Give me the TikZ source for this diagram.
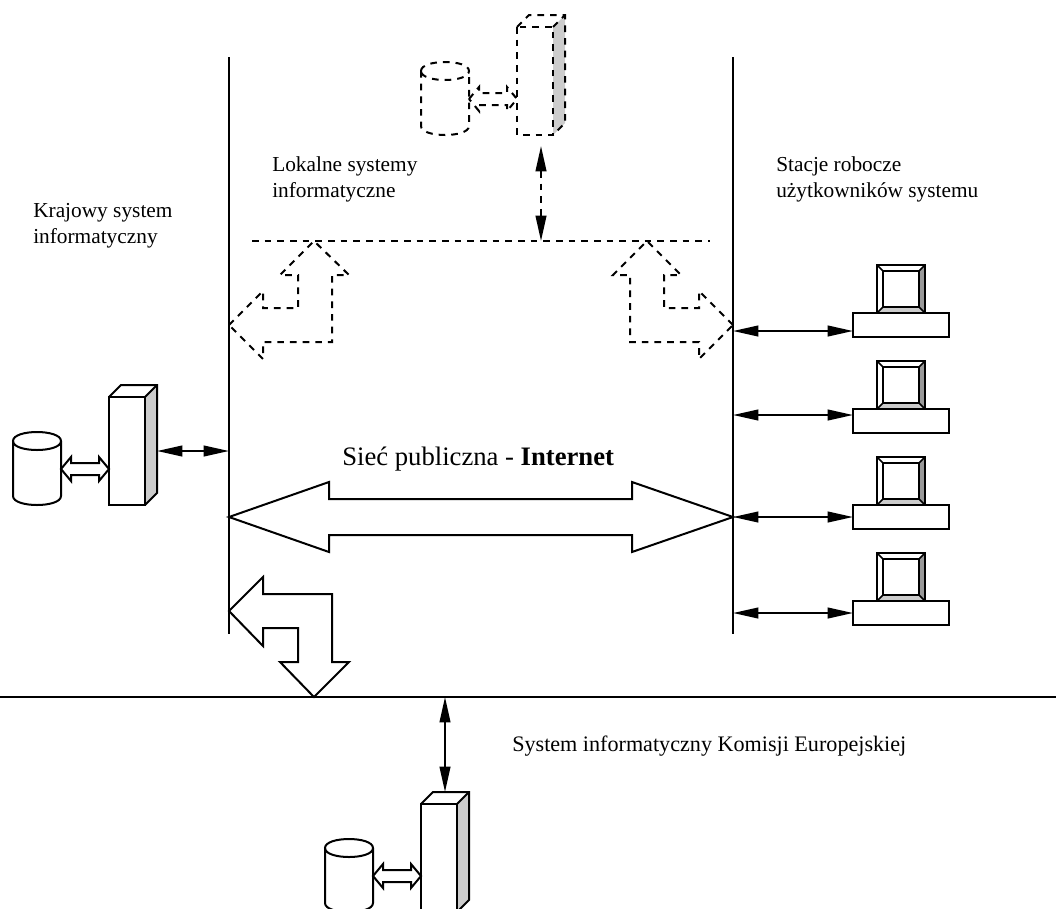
\documentclass[tikz,border=0pt]{standalone}
\usepackage{fontspec}
\setmainfont{Liberation Serif}
\usetikzlibrary{arrows.meta}

\tikzset{
  base line/.style={line width=1.5pt,line join=miter},
  bus/.style={base line},
  dash line/.style={base line,dash pattern=on 5pt off 4.5pt},
  link/.style={line width=1.5pt,{Triangle[length=19pt,width=8pt]}-{Triangle[length=19pt,width=8pt]}},
  label/.style={align=left,anchor=west,inner sep=0pt,font=\fontsize{16}{19.5}\selectfont},
  server/.pic={
    % cylinder
    \draw[base line] (-96,44) .. controls (-96,32) and (-48,32) .. (-48,44) .. controls (-48,56) and (-96,56) .. cycle;
    \draw[base line] (-96,44) -- (-96,99) .. controls (-96,111) and (-48,111) .. (-48,99) -- (-48,44);
    % link to the cylinder
    \draw[base line] (-48,72) -- (-38,60) -- (-38,66) -- (-10,66) -- (-10,60) -- (0,72) -- (-10,84) -- (-10,78) -- (-38,78) -- (-38,84) -- cycle;
    % box
    \fill[black!20] (36,0) -- (48,-12) -- (48,96) -- (36,108) -- cycle;
    \draw[base line] (0,0) rectangle (36,108);
    \draw[base line] (0,0) -- (12,-12) -- (48,-12) -- (48,96) -- (36,108);
    \draw[base line] (36,0) -- (48,-12);
    \coordinate (-north) at (24,-12);
    \coordinate (-south) at (24,119);
    \coordinate (-east) at (48,54);
  },
  computer/.pic={
    \fill[black!40] (42,6) -- (48,0) -- (48,48) -- (42,42) -- cycle;
    \fill[black!20] (6,42) -- (42,42) -- (48,48) -- (0,48) -- cycle;
    \draw[base line] (0,0) rectangle (48,48);
    \draw[line width=1.1pt] (6,6) rectangle (42,42);
    \draw[line width=1.1pt] (0,0) -- (6,6) (48,0) -- (42,6) (48,48) -- (42,42) (0,48) -- (6,42);
    \draw[base line] (-24,48) rectangle (72,72);
    \coordinate (-west) at (-24,60);
  }
}

\begin{document}
\begin{tikzpicture}[x=0.75pt,y=-0.75pt]
  \clip (0,0) rectangle (1056,908);

  \coordinate (leftbus) at (229,57);
  \coordinate (leftbusend) at (229,634);
  \coordinate (rightbus) at (733,57);
  \coordinate (rightbusend) at (733,634);
  \coordinate (eubus) at (0,697);
  \coordinate (eubusend) at (1056,697);
  \coordinate (localbus) at (252,241);
  \coordinate (localbusend) at (710,241);

  \draw[bus] (leftbus) -- (leftbusend);
  \draw[bus] (rightbus) -- (rightbusend);
  \draw[bus] (eubus) -- (eubusend);
  \draw[dash line] (localbus) -- (localbusend);

  \pic (srvlocal) [dash line] at (517,27) {server};
  \pic (srvpl) at (109,397) {server};
  \pic (srveu) at (421,804) {server};

  \draw[link,dash pattern=on 5pt off 4.5pt] (srvlocal-south) -- (srvlocal-south |- localbus);
  \draw[link] (srvpl-east) -- (srvpl-east -| leftbus);
  \draw[link] (srveu-north) -- (srveu-north |- eubus);

  % computers
  \foreach \i/\ytop/\ylink in {1/265/331,2/361/415,3/457/517,4/553/613} {
    \pic (pc\i) at (877,\ytop) {computer};
    \draw[link] (rightbus |- 0,\ylink) -- (pc\i-west |- 0,\ylink);
  }

  % block arrows
  \draw[dash line] (229,325) -- (263,291) -- (263,308) -- (298,308) -- (298,275) -- (280,275) -- (314,241) -- (349,275) -- (332,275) -- (332,342) -- (263,342) -- (263,359) -- cycle;
  \draw[dash line] (733,325) -- (699,291) -- (699,308) -- (664,308) -- (664,275) -- (681,275) -- (647,241) -- (613,275) -- (630,275) -- (630,342) -- (699,342) -- (699,359) -- cycle;
  \draw[base line] (229,517) -- (329,482) -- (329,499) -- (632,499) -- (632,482) -- (733,517) -- (632,552) -- (632,535) -- (329,535) -- (329,552) -- cycle;
  \draw[base line] (229,611) -- (263,577) -- (263,594) -- (332,594) -- (332,662) -- (349,662) -- (314,697) -- (280,662) -- (298,662) -- (298,628) -- (263,628) -- (263,646) -- cycle;

  % texts
  \node[label] (lbllocal) at (272,179) {Lokalne systemy\\informatyczne};
  \node[label] (lblstations) at (776,179) {Stacje robocze\\użytkowników systemu};
  \node[label] (lblnational) at (33,226) {Krajowy system\\informatyczny};
  \node[label,font=\fontsize{20}{24}\selectfont] (lblpublic) at (342,459) {Sieć publiczna - \textbf{Internet}};
  \node[label,font=\fontsize{16.6}{19.5}\selectfont] (lbleu) at (512,746) {System informatyczny Komisji Europejskiej};
\end{tikzpicture}
\end{document}
